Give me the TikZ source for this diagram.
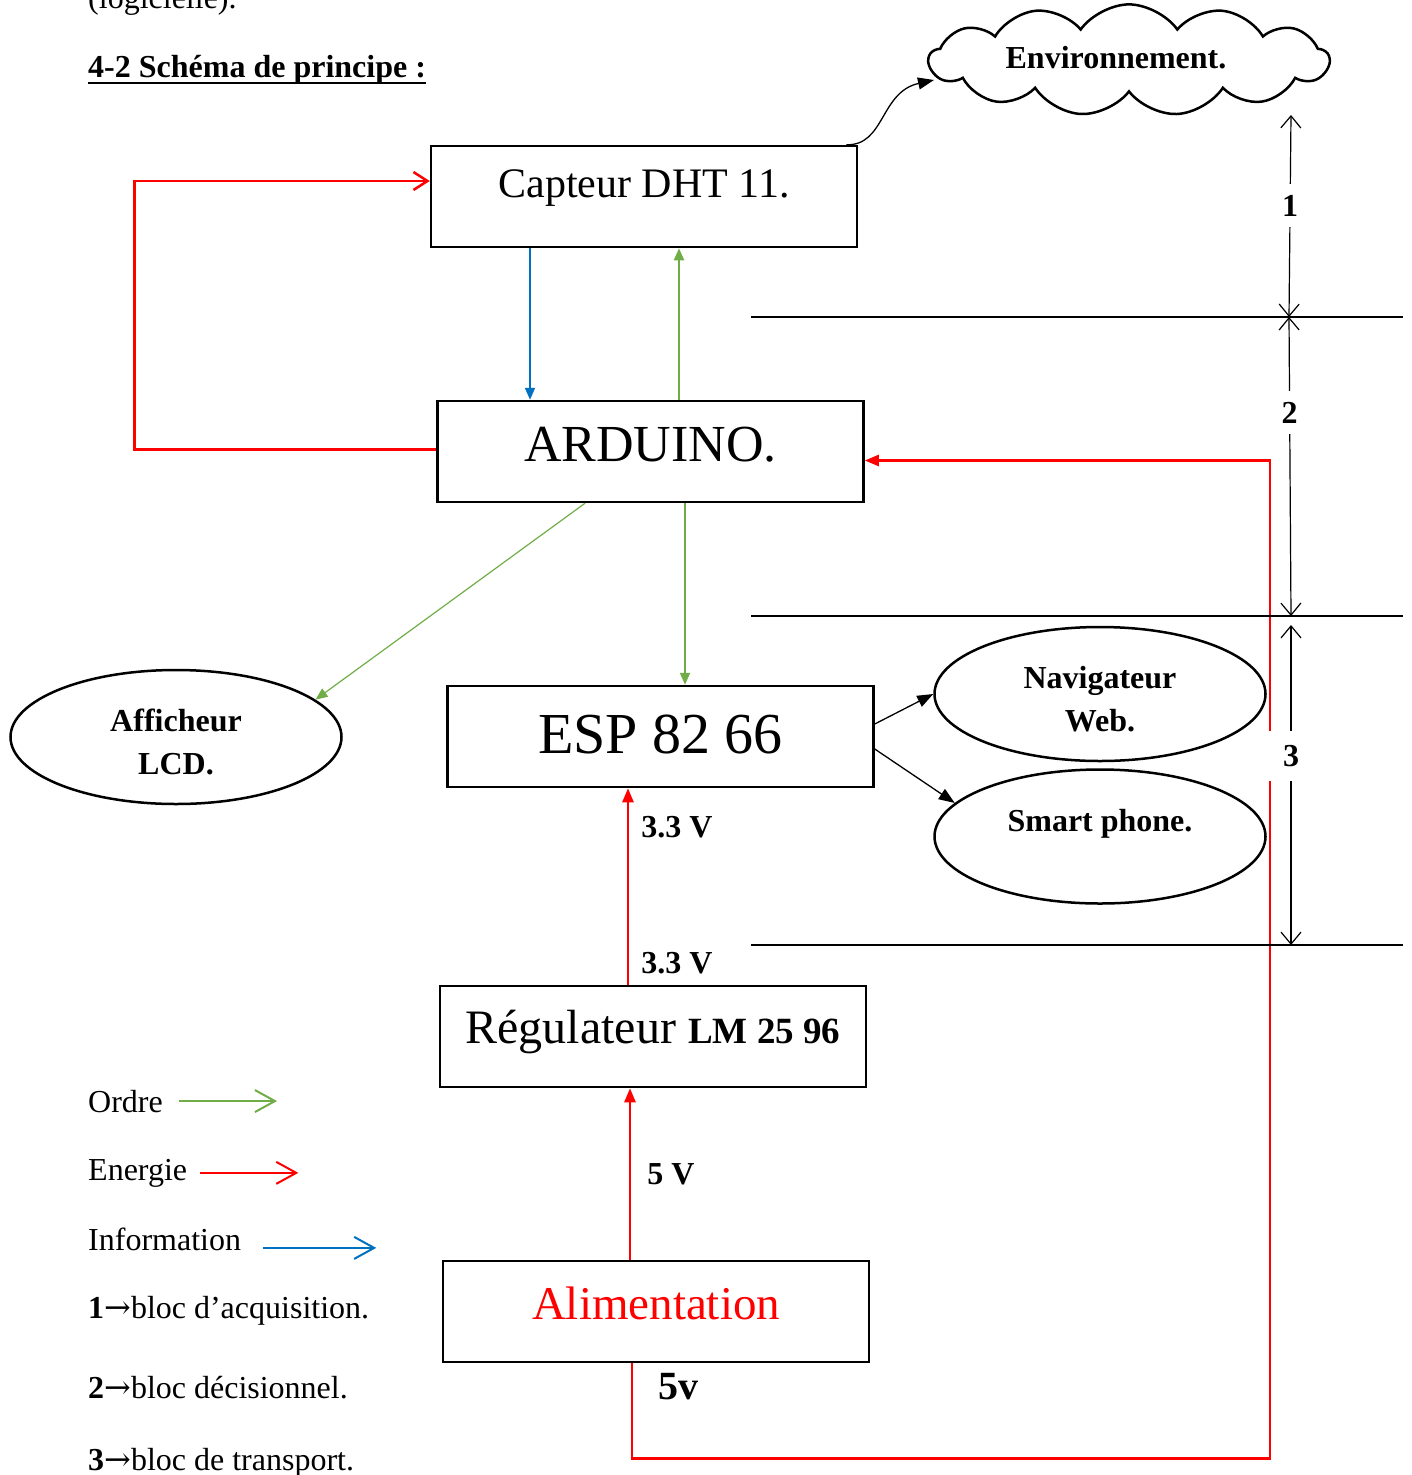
\documentclass[tikz,border=0pt]{standalone}
\usepackage{fontspec}
\setmainfont{Liberation Serif}
\newfontfamily\fleche{DejaVu Serif}
\usepackage{tikz}
\usetikzlibrary{arrows.meta,positioning,calc,shapes.geometric,shapes.symbols}
\definecolor{OrdreVert}{HTML}{70AD47}
\definecolor{EnergieRouge}{HTML}{FF0000}
\definecolor{InfoBleu}{HTML}{0070C0}

\begin{document}
\begin{tikzpicture}[
  x=1pt,y=-1pt,
  bloc/.style={draw,line width=2.5pt,minimum width=426pt,minimum height=101pt,inner sep=0pt,align=center},
  bulle/.style={draw,ellipse,line width=2.5pt,minimum width=331pt,minimum height=134pt,inner sep=0pt,align=center,font=\fontsize{32}{43}\selectfont\bfseries},
  ordre/.style={OrdreVert,line width=2pt,-{Triangle[length=12pt,width=10pt]}},
  energie/.style={EnergieRouge,line width=2.5pt,-{Triangle[length=14pt,width=11pt]}},
  retour/.style={EnergieRouge,line width=2.5pt,-{Straight Barb[length=14pt,width=18pt]}},
  info/.style={InfoBleu,line width=2pt,-{Triangle[length=12pt,width=10pt]}},
  lien/.style={black,line width=1.3pt,-{Triangle[length=16pt,width=12pt]}},
  legende/.style={line width=2pt,-{Straight Barb[length=20pt,width=22pt]}},
  cote/.style={line width=1.2pt,{Straight Barb[length=12pt,width=20pt]}-{Straight Barb[length=12pt,width=20pt]}},
  etiq/.style={font=\fontsize{32}{38}\selectfont\bfseries,text=black,inner sep=0pt},
  texte/.style={font=\fontsize{32}{38}\selectfont,inner sep=0pt,anchor=base west}
]
\useasboundingbox (0,0) rectangle (1411,1475);
\clip (0,0) rectangle (1411,1475);

\node[texte] (logiciel) at (88,8) {(logicielle).};
\node[texte,font=\fontsize{32}{38}\selectfont\bfseries] (titre) at (88,77) {4-2 Schéma de principe :};
\draw[line width=2.5pt] ($(titre.base west)+(0,6)$) -- ($(titre.base east)+(0,6)$);

\node[draw,cloud,cloud puffs=13,cloud puff arc=110,aspect=5,inner sep=0pt,line width=2.5pt,minimum width=400pt,minimum height=62pt,text depth=6pt,font=\fontsize{32}{38}\selectfont\bfseries] (env) at (1129,60) {Environnement.\hspace*{26pt}};

\node[bloc,font=\fontsize{42}{50}\selectfont,text depth=25pt] (capteur) at (644,196.5) {Capteur DHT 11.};
\node[bloc,font=\fontsize{52}{60}\selectfont,text depth=14pt,below=151.5pt of capteur,xshift=6.5pt] (arduino) {ARDUINO.};
\node[bloc,font=\fontsize{58}{66}\selectfont,text depth=5pt,below=181.5pt of arduino,xshift=10pt] (esp) {ESP 82 66};
\node[bloc,font=\fontsize{48}{56}\selectfont,text depth=20pt,below=196.5pt of esp,xshift=-7.5pt] (reg) {Régulateur {\fontsize{37}{44}\selectfont\bfseries LM 25 96}};
\node[bloc,font=\fontsize{47}{56}\selectfont,text depth=17pt,text=EnergieRouge,below=171.5pt of reg,xshift=3pt] (alim) {Alimentation};

\node[bulle,text height=76pt] (lcd) at (176,737) {Afficheur\\LCD.};
\node[bulle,text height=76pt] (nav) at (1100,694) {Navigateur\\Web.};
\node[bulle,text depth=33pt,below=6pt of nav] (smart) {Smart phone.};

\draw[lien] ([xshift=-12pt]capteur.north east) .. controls (885,146) and (880,92) .. ($(env.center)+(-195,20)$);
\draw[info] ([xshift=-114pt]capteur.south) -- ([xshift=-114pt]capteur.south |- arduino.north);
\draw[ordre] ([xshift=28.5pt]arduino.north) -- ([xshift=28.5pt]arduino.north |- capteur.south);
\draw[retour] ([yshift=2pt]arduino.west) -- ++(-302,0) |- ([yshift=15.5pt]capteur.west);
\draw[ordre] ([xshift=34.5pt]arduino.south) -- ([xshift=34.5pt]arduino.south |- esp.north);
\draw[ordre,line width=1.2pt] ([xshift=-65.5pt]arduino.south) -- (lcd.15);
\draw[lien] ([yshift=12.5pt]esp.east) -- (nav.west);
\draw[lien] ([yshift=-12.5pt]esp.east) -- (smart.167);
\draw[energie] ([xshift=-25pt]reg.north) -- node[etiq,pos=.11,anchor=west,xshift=12pt]{3.3 V} node[etiq,pos=.8,anchor=west,xshift=12pt]{3.3 V} ([xshift=-25pt]reg.north |- esp.south);
\draw[energie] ([xshift=-26pt]alim.north) -- node[etiq,pos=.5,anchor=west,xshift=16pt]{5 V} ([xshift=-26pt]alim.north |- reg.south);
\draw[energie] ([xshift=-24pt]alim.south) -- node[etiq,font=\fontsize{40}{48}\selectfont\bfseries,pos=.25,anchor=west,xshift=25pt]{5v} ++(0,95) -- ++(638,0) |- ([yshift=-9pt]arduino.east);

\draw[line width=1.2pt] (751,317) -- (1403,317);
\draw[line width=1.2pt] (751,616) -- (1403,616);
\draw[line width=1.2pt] (751,945) -- (1403,945);
\draw[cote] (1291,115) -- node[etiq,fill=white,inner sep=11pt,pos=.45]{1} (1289,317);
\draw[cote] (1289,317) -- node[etiq,fill=white,inner sep=11pt,pos=.32]{2} (1291,616);
\draw[cote] (1291,625) -- node[etiq,fill=white,inner sep=14pt,pos=.41]{3} (1291,945);

\node[texte] (lordre) at (88,1112) {Ordre};
\node[texte] (lenergie) at (88,1180) {Energie};
\node[texte] (linfo) at (88,1250) {Information};
\node[texte] (lbloc1) at (88,1318) {\textbf{1}{\fleche →}bloc d’acquisition.};
\node[texte] (lbloc2) at (88,1398) {\textbf{2}{\fleche →}bloc décisionnel.};
\node[texte] (lbloc3) at (88,1470) {\textbf{3}{\fleche →}bloc de transport.};
\draw[legende,OrdreVert] ([xshift=16pt]lordre.east) -- ++(98,0);
\draw[legende,EnergieRouge] ([xshift=13pt]lenergie.east) -- ++(98,0);
\draw[legende,InfoBleu] ([xshift=22pt,yshift=-9pt]linfo.east) -- ++(113,0);
\end{tikzpicture}
\end{document}
